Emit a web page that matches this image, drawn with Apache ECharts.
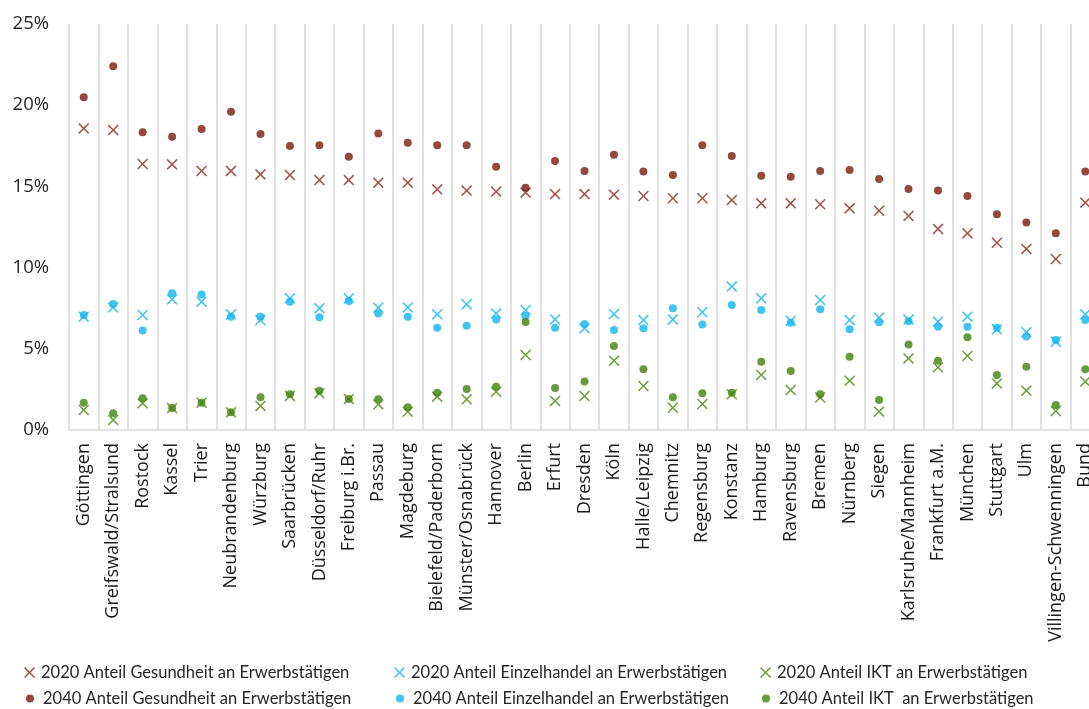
<!DOCTYPE html>
<html>
<head>
<meta charset="utf-8">
<script src="https://cdn.jsdelivr.net/npm/echarts@6/dist/echarts.min.js"></script>
<style>
  html, body { margin: 0; padding: 0; background: #ffffff; overflow: hidden; }
  #chart { width: 1100px; height: 709px; }
</style>
</head>
<body>
<div id="chart"></div>
<script>
// Regions (Arbeitsmarktregionen) plus the national value
const regions = [
  'Göttingen', 'Greifswald/Stralsund', 'Rostock', 'Kassel', 'Trier', 'Neubrandenburg',
  'Würzburg', 'Saarbrücken', 'Düsseldorf/Ruhr', 'Freiburg i.Br.', 'Passau', 'Magdeburg',
  'Bielefeld/Paderborn', 'Münster/Osnabrück', 'Hannover', 'Berlin', 'Erfurt', 'Dresden',
  'Köln', 'Halle/Leipzig', 'Chemnitz', 'Regensburg', 'Konstanz', 'Hamburg', 'Ravensburg',
  'Bremen', 'Nürnberg', 'Siegen', 'Karlsruhe/Mannheim', 'Frankfurt a.M.', 'München',
  'Stuttgart', 'Ulm', 'Villingen-Schwenningen', 'Bund'
];

// Shares of employed persons, in percent
const gesundheit2020 = [18.57, 18.47, 16.38, 16.36, 15.95, 15.95, 15.74, 15.70, 15.39, 15.39, 15.23, 15.23,
  14.82, 14.74, 14.68, 14.62, 14.53, 14.53, 14.49, 14.41, 14.27, 14.27, 14.16, 13.96, 13.96,
  13.90, 13.65, 13.50, 13.18, 12.38, 12.11, 11.53, 11.15, 10.53, 14.00];
const gesundheit2040 = [20.49, 22.40, 18.33, 18.06, 18.53, 19.60, 18.23, 17.49, 17.53, 16.83, 18.25, 17.69,
  17.53, 17.53, 16.21, 14.92, 16.56, 15.95, 16.95, 15.91, 15.70, 17.53, 16.87, 15.66, 15.60,
  15.95, 16.01, 15.46, 14.84, 14.74, 14.41, 13.28, 12.77, 12.11, 15.91];
const einzelhandel2020 = [6.98, 7.55, 7.08, 8.05, 7.90, 7.12, 6.77, 8.11, 7.49, 8.11, 7.53, 7.55,
  7.12, 7.74, 7.18, 7.39, 6.81, 6.26, 7.14, 6.77, 6.81, 7.25, 8.83, 8.11, 6.73,
  8.00, 6.77, 6.92, 6.80, 6.67, 6.98, 6.20, 6.02, 5.44, 7.12];
const einzelhandel2040 = [7.08, 7.76, 6.12, 8.42, 8.35, 6.98, 6.98, 7.90, 6.94, 7.94, 7.18, 6.98,
  6.30, 6.42, 6.81, 7.04, 6.30, 6.53, 6.16, 6.26, 7.49, 6.50, 7.70, 7.39, 6.61,
  7.43, 6.20, 6.63, 6.70, 6.36, 6.36, 6.30, 5.75, 5.54, 6.77];
const ikt2020 = [1.23, 0.62, 1.64, 1.35, 1.68, 1.09, 1.48, 2.10, 2.26, 1.91, 1.58, 1.13,
  2.05, 1.89, 2.36, 4.62, 1.79, 2.09, 4.27, 2.71, 1.37, 1.60, 2.20, 3.39, 2.46,
  2.00, 3.04, 1.13, 4.41, 3.86, 4.56, 2.87, 2.42, 1.17, 2.98];
const ikt2040 = [1.68, 1.03, 1.95, 1.35, 1.68, 1.10, 2.01, 2.20, 2.42, 1.91, 1.89, 1.40,
  2.30, 2.52, 2.67, 6.65, 2.59, 2.98, 5.17, 3.74, 2.01, 2.26, 2.30, 4.21, 3.63,
  2.20, 4.51, 1.85, 5.27, 4.27, 5.71, 3.39, 3.90, 1.54, 3.74];

const yTicks = { min: 0, max: 25, step: 5 };

const seriesNames = [
  '2020 Anteil Gesundheit an Erwerbstätigen',
  '2020 Anteil Einzelhandel an Erwerbstätigen',
  '2020 Anteil IKT an Erwerbstätigen',
  '2040 Anteil Gesundheit an Erwerbstätigen',
  '2040 Anteil Einzelhandel an Erwerbstätigen',
  '2040 Anteil IKT  an Erwerbstätigen'
];

const RED_X = '#8c2a1c', RED_DOT = '#7a1a0c';
const BLUE = '#12b5ef';
const GREEN_X = '#4e8a12', GREEN_DOT = '#44800c';

// thin filled cross used for the 2020 values
const CROSS = 'path://M1,0 L5,4 L9,0 L10,1 L6,5 L10,9 L9,10 L5,6 L1,10 L0,9 L4,5 L0,1 Z';

function crossSeries(name, data, color) {
  return {
    name, type: 'scatter', data,
    symbol: CROSS, symbolSize: 11,
    itemStyle: { color },
    emphasis: { disabled: true },
    z: 2
  };
}
function dotSeries(name, data, color) {
  return {
    name, type: 'scatter', data,
    symbol: 'circle', symbolSize: 8,
    itemStyle: { color },
    emphasis: { disabled: true },
    z: 3
  };
}

// one legend box per entry, laid out as two rows of three
const legendCols = [24, 394, 760];
const legendRows = [664, 689];
const legends = seriesNames.map((n, i) => {
  const col = i % 3, row = Math.floor(i / 3);
  const isCross = row === 0;
  return {
    data: [n],
    left: legendCols[col] + (isCross ? 0 : 2),
    top: legendRows[row] + (isCross ? 0 : 1),
    orient: 'horizontal',
    itemWidth: isCross ? 11 : 8,
    itemHeight: isCross ? 11 : 8,
    itemGap: 0,
    padding: 0,
    selectedMode: false,
    textStyle: { fontFamily: 'Lato', fontSize: 16.5, color: '#262626', padding: [0, 0, 0, isCross ? 1 : 4] }
  };
});

const chart = echarts.init(document.getElementById('chart'), null, { renderer: 'canvas' });
chart.setOption({
  animation: false,
  backgroundColor: '#ffffff',
  legend: legends,
  grid: { left: 69, right: 0, top: 24, bottom: 279, containLabel: false },
  xAxis: {
    type: 'category',
    data: regions,
    boundaryGap: true,
    axisLine: { show: true, lineStyle: { color: '#d9d9d9', width: 1.5 } },
    axisTick: { show: false },
    splitLine: { show: true, interval: 0, lineStyle: { color: '#d9d9d9', width: 1.5 } },
    axisLabel: {
      interval: 0, rotate: 90, margin: 13,
      fontFamily: 'Open Sans', fontSize: 18, color: '#1a1a1a'
    }
  },
  yAxis: {
    type: 'value',
    min: yTicks.min, max: yTicks.max, interval: yTicks.step,
    axisLine: { show: false },
    axisTick: { show: false },
    splitLine: { show: false },
    axisLabel: {
      formatter: '{value}%', margin: 20,
      fontFamily: 'Open Sans', fontSize: 18.5, color: '#262626'
    }
  },
  series: [
    crossSeries(seriesNames[0], gesundheit2020, RED_X),
    crossSeries(seriesNames[1], einzelhandel2020, BLUE),
    crossSeries(seriesNames[2], ikt2020, GREEN_X),
    dotSeries(seriesNames[3], gesundheit2040, RED_DOT),
    dotSeries(seriesNames[4], einzelhandel2040, BLUE),
    dotSeries(seriesNames[5], ikt2040, GREEN_DOT)
  ]
});
</script>
</body>
</html>
